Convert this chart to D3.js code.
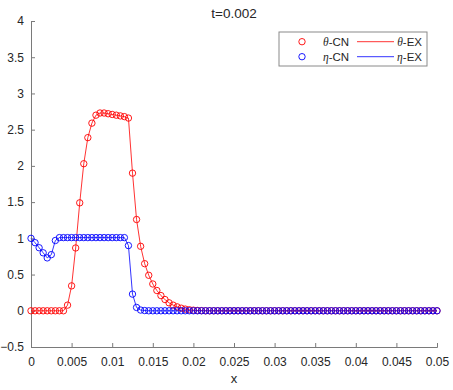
<!DOCTYPE html>
<html>
<head>
<meta charset="utf-8">
<script src="https://cdn.jsdelivr.net/npm/d3@7"></script>
<style>
  body { margin: 0; background: #fff; }
  svg text { font-family: "Liberation Sans", Arial, Helvetica, sans-serif; fill: #262626; }
</style>
</head>
<body>
<div id="chart"></div>
<script>
// grid spacing of the solution (101 nodes on [0, 0.05])
const dx = 0.0005;

const thetaCN = [
  0, 0, 0, 0, 0, 0, 0, 0, 0,
  0.078, 0.344, 0.867, 1.49, 2.03, 2.39, 2.59, 2.70, 2.73, 2.73,
  2.72, 2.71, 2.70, 2.69, 2.68, 2.66, 1.90, 1.26, 0.89, 0.65,
  0.49, 0.37, 0.28, 0.21, 0.155, 0.11, 0.078, 0.054, 0.036, 0.023,
  0.014, 0.008, 0.004, 0.002,
  0, 0, 0, 0, 0, 0, 0, 0, 0, 0,
  0, 0, 0, 0, 0, 0, 0, 0, 0, 0,
  0, 0, 0, 0, 0, 0, 0, 0, 0, 0,
  0, 0, 0, 0, 0, 0, 0, 0, 0, 0,
  0, 0, 0, 0, 0, 0, 0, 0, 0, 0,
  0, 0, 0, 0, 0, 0, 0, 0
];
const thetaEX = thetaCN.slice();

const etaCN = [
  1.0, 0.94, 0.87, 0.80, 0.73, 0.775, 0.97,
  1.01, 1.01, 1.01, 1.01, 1.01, 1.01, 1.01, 1.01, 1.01,
  1.01, 1.01, 1.01, 1.01, 1.01, 1.01, 1.01, 1.01,
  0.90, 0.23, 0.046, 0.01, 0.003,
  0, 0, 0, 0, 0, 0, 0, 0, 0, 0,
  0, 0, 0, 0, 0, 0, 0, 0, 0, 0,
  0, 0, 0, 0, 0, 0, 0, 0, 0, 0,
  0, 0, 0, 0, 0, 0, 0, 0, 0, 0,
  0, 0, 0, 0, 0, 0, 0, 0, 0, 0,
  0, 0, 0, 0, 0, 0, 0, 0, 0, 0,
  0, 0, 0, 0, 0, 0, 0, 0, 0, 0,
  0, 0
];
const etaEX = etaCN.slice();

const xTicks = [0, 0.005, 0.01, 0.015, 0.02, 0.025, 0.03, 0.035, 0.04, 0.045, 0.05];
const yTicks = [-0.5, 0, 0.5, 1, 1.5, 2, 2.5, 3, 3.5, 4];

const W = 453, H = 390;
const margin = { top: 21, right: 16, bottom: 43, left: 31 };
const width = W - margin.left - margin.right;
const height = H - margin.top - margin.bottom;

const svg = d3.select("#chart").append("svg")
  .attr("width", W)
  .attr("height", H);

const g = svg.append("g")
  .attr("transform", `translate(${margin.left},${margin.top})`);

const x = d3.scaleLinear().domain([0, 0.05]).range([0, width]);
const y = d3.scaleLinear().domain([-0.5, 4]).range([height, 0]);

// Axes (MATLAB style: ticks inside, box off)
const axisColor = "#7a7a7a";
const xAxis = g.append("g")
  .attr("transform", `translate(0,${height})`)
  .call(d3.axisBottom(x).tickValues(xTicks).tickSize(-4).tickPadding(10)
    .tickFormat(d => d3.format("")(+d.toFixed(3))));
const yAxis = g.append("g")
  .call(d3.axisLeft(y).tickValues(yTicks).tickSize(-4).tickPadding(7)
    .tickFormat(d => d3.format("")(d)));

[xAxis, yAxis].forEach(a => {
  a.select(".domain").attr("stroke", axisColor);
  a.selectAll(".tick line").attr("stroke", axisColor);
  a.selectAll("text").attr("font-size", "12px").attr("fill", "#262626")
    .style("font-family", '"Liberation Sans", Arial, sans-serif');
});

// Lines (exact solutions)
const line = d3.line()
  .x((d, i) => x(i * dx))
  .y(d => y(d));

g.append("path").datum(thetaEX)
  .attr("fill", "none").attr("stroke", "#ff0000").attr("stroke-opacity", 0.8)
  .attr("stroke-width", 1).attr("d", line);
g.append("path").datum(etaEX)
  .attr("fill", "none").attr("stroke", "#0000ff").attr("stroke-opacity", 0.8)
  .attr("stroke-width", 1).attr("d", line);

// Circle markers (CN)
g.append("g").selectAll("circle")
  .data(thetaCN)
  .join("circle")
  .attr("cx", (d, i) => x(i * dx))
  .attr("cy", d => y(d))
  .attr("r", 3.2)
  .attr("fill", "none")
  .attr("stroke", "#ff0000")
  .attr("stroke-width", 0.9);

g.append("g").selectAll("circle")
  .data(etaCN)
  .join("circle")
  .attr("cx", (d, i) => x(i * dx))
  .attr("cy", d => y(d))
  .attr("r", 3.2)
  .attr("fill", "none")
  .attr("stroke", "#0000ff")
  .attr("stroke-width", 0.9);

// Title and label
svg.append("text")
  .attr("x", margin.left + width / 2)
  .attr("y", 17.5)
  .attr("text-anchor", "middle")
  .attr("font-size", "13.5px")
  .text("t=0.002");

svg.append("text")
  .attr("x", margin.left + width / 2)
  .attr("y", 383)
  .attr("text-anchor", "middle")
  .attr("font-size", "13px")
  .text("x");

// Legend
const legend = svg.append("g").attr("transform", "translate(279,32)");
legend.append("rect")
  .attr("width", 148).attr("height", 34)
  .attr("fill", "#fff").attr("stroke", "#8a8a8a").attr("stroke-width", 1);

const items = [
  { sym: "θ", color: "#ff0000", cy: 9.7 },
  { sym: "η", color: "#0000ff", cy: 24.7 }
];

items.forEach(it => {
  legend.append("circle")
    .attr("cx", 23).attr("cy", it.cy).attr("r", 3.2)
    .attr("fill", "none").attr("stroke", it.color).attr("stroke-width", 0.9);

  const t1 = legend.append("text")
    .attr("x", 44).attr("y", it.cy + 4).attr("font-size", "11.5px");
  t1.append("tspan").attr("font-style", "italic")
    .style("font-family", '"Liberation Serif", "Times New Roman", serif').text(it.sym);
  t1.append("tspan").text("-CN");

  legend.append("line")
    .attr("x1", 78).attr("x2", 115)
    .attr("y1", it.cy).attr("y2", it.cy)
    .attr("stroke", it.color).attr("stroke-opacity", 0.8).attr("stroke-width", 1);

  const t2 = legend.append("text")
    .attr("x", 143).attr("y", it.cy + 4).attr("font-size", "11.5px")
    .attr("text-anchor", "end");
  t2.append("tspan").attr("font-style", "italic")
    .style("font-family", '"Liberation Serif", "Times New Roman", serif').text(it.sym);
  t2.append("tspan").text("-EX");
});
</script>
</body>
</html>
